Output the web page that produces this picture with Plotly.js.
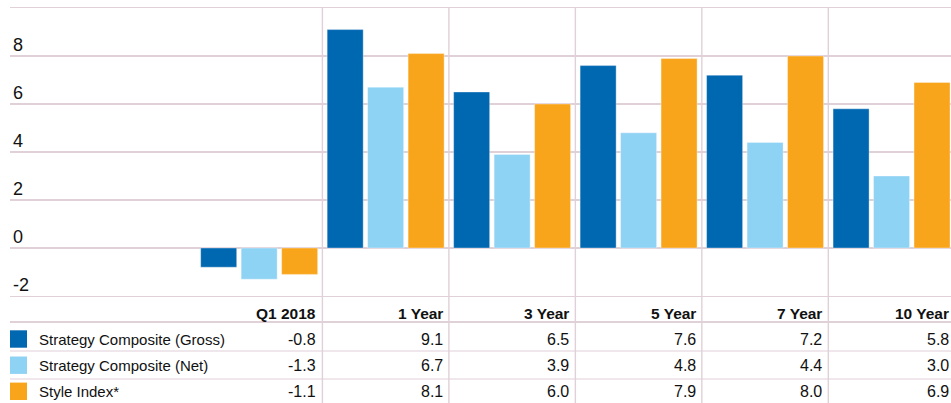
<!DOCTYPE html>
<html>
<head>
<meta charset="utf-8">
<script src="https://cdn.plot.ly/plotly-3.0.1.min.js"></script>
<style>html,body{margin:0;padding:0;background:#fff;}#chart{width:951px;height:403px;}</style>
</head>
<body>
<div id="chart"></div>
<script>
// ---- data ----
const categories = ['Q1 2018', '1 Year', '3 Year', '5 Year', '7 Year', '10 Year'];
const seriesNames = ['Strategy Composite (Gross)', 'Strategy Composite (Net)', 'Style Index*'];
const grossValues = [-0.8, 9.1, 6.5, 7.6, 7.2, 5.8];
const netValues = [-1.3, 6.7, 3.9, 4.8, 4.4, 3.0];
const styleIndexValues = [-1.1, 8.1, 6.0, 7.9, 8.0, 6.9];
const yTickValues = [-2, 0, 2, 4, 6, 8];
const yTickLabels = ['-2', '0', '2', '4', '6', '8'];

// ---- style ----
const colors = ['#0067b1', '#8ed2f4', '#f9a51c'];
const gridColor = '#e0d0d7';
const textFont = 'Liberation Sans, Arial, sans-serif';
const textSize = 15;
const W = 951, H = 403;
const plotTop = 8, plotBottom = 296, plotLeft = 10;
const plotH = plotBottom - plotTop, plotW = W - plotLeft;
const xMin = -1.97, xMax = 5.47;
const catPx = plotW / (xMax - xMin);
const py = p => (plotBottom - p) / plotH;   // pixel row -> paper y
const px = p => (p - plotLeft) / plotW;     // pixel col -> paper x

const seriesValues = [grossValues, netValues, styleIndexValues];
const traces = seriesValues.map((vals, i) => ({
  type: 'bar', x: categories, y: vals, name: seriesNames[i],
  marker: {color: colors[i], line: {color: 'rgba(255,255,255,0.6)', width: 0.6}},
  hoverinfo: 'skip'
}));

const headerY = 313.5;
const rowY = [339, 365.2, 391.3];
const annotations = [];
const shapes = [];

categories.forEach((c, ci) => {
  annotations.push({xref: 'x', yref: 'paper', x: ci, y: py(headerY), text: '<b>' + c + '</b>',
    xanchor: 'right', yanchor: 'middle', xshift: catPx / 2 - 4, showarrow: false,
    font: {family: textFont, size: 15.5, color: '#111'}});
  seriesValues.forEach((vals, si) => {
    annotations.push({xref: 'x', yref: 'paper', x: ci, y: py(rowY[si]), text: vals[ci].toFixed(1),
      xanchor: 'right', yanchor: 'middle', xshift: catPx / 2 - 4, showarrow: false,
      font: {family: textFont, size: 16, color: '#111'}});
  });
});
seriesNames.forEach((n, si) => {
  annotations.push({xref: 'paper', yref: 'paper', x: px(37), y: py(rowY[si]), text: n,
    xanchor: 'left', yanchor: 'middle', showarrow: false,
    font: {family: textFont, size: textSize, color: '#111'}});
  shapes.push({type: 'rect', xref: 'paper', yref: 'paper', x0: px(10), x1: px(27),
    y0: py(rowY[si] - 8.7), y1: py(rowY[si] + 8.7), fillcolor: colors[si], line: {width: 0}});
});

// table lines
shapes.push({type: 'line', xref: 'paper', yref: 'paper', x0: 0, x1: 1, y0: py(322), y1: py(322), line: {color: gridColor, width: 2.2}});
[351, 379].forEach(p => shapes.push({type: 'line', xref: 'paper', yref: 'paper', x0: 0, x1: 1, y0: py(p), y1: py(p), line: {color: gridColor, width: 1.2}}));
for (let k = 0; k < categories.length - 1; k++) {
  shapes.push({type: 'line', xref: 'x', yref: 'paper', x0: k + 0.5, x1: k + 0.5, y0: 1, y1: py(H + 2), line: {color: gridColor, width: 1.4}, layer: 'below'});
}

const layout = {
  width: W, height: H,
  margin: {l: plotLeft, r: 0, t: plotTop, b: H - plotBottom, pad: 0},
  paper_bgcolor: '#fff', plot_bgcolor: '#fff',
  showlegend: false,
  barmode: 'group', bargap: 0.04, bargroupgap: 0.11,
  xaxis: {type: 'category', range: [xMin, xMax], showgrid: false, showticklabels: false, ticks: '',
    zeroline: false, showline: true, mirror: true, linecolor: gridColor, linewidth: 1.2, fixedrange: true},
  yaxis: {range: [-2, 10], tickvals: yTickValues, ticktext: yTickLabels, showgrid: true, gridcolor: gridColor, gridwidth: 1.2,
    zeroline: true, zerolinecolor: gridColor, zerolinewidth: 2.2, showline: false, ticks: '',
    ticklabelposition: 'inside', ticklabelshift: -11, ticklabelstandoff: 0, ticklabeloverflow: 'allow',
    tickfont: {family: 'Liberation Sans, Arial, sans-serif', size: 18, color: '#111'}, fixedrange: true},
  shapes: shapes,
  annotations: annotations
};

Plotly.newPlot('chart', traces, layout, {displayModeBar: false, staticPlot: true});
</script>
</body>
</html>
